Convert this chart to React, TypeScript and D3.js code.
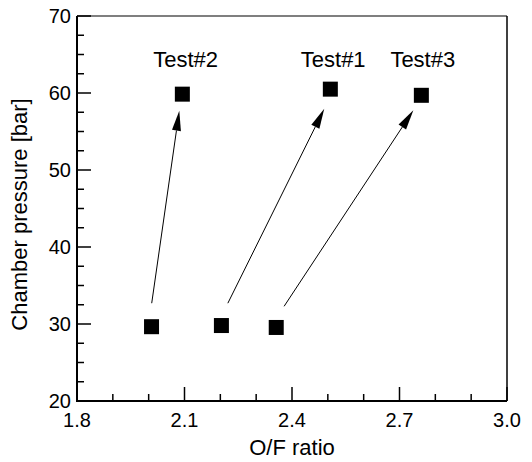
import { useEffect, useRef } from 'react';
import * as d3 from 'd3';

// O/F ratio vs chamber pressure, start and end point of each test
const TESTS = ['Test#1', 'Test#2', 'Test#3'];
const START_OF = [2.203, 2.008, 2.356];
const START_PC = [29.8, 29.65, 29.55];
const END_OF = [2.507, 2.094, 2.761];
const END_PC = [60.5, 59.85, 59.7];

// arrow shafts (from -> to), in data units
const ARROW_FROM_OF = [2.221, 2.0085, 2.378];
const ARROW_FROM_PC = [32.7, 32.7, 32.3];
const ARROW_TO_OF = [2.490, 2.0855, 2.7386];
const ARROW_TO_PC = [57.95, 57.7, 57.75];

// label anchors
const LABEL_OF = [2.515, 2.103, 2.765];
const LABEL_PC = [63.4, 63.4, 63.4];

const X_TICKS = [1.8, 2.1, 2.4, 2.7, 3.0];
const Y_TICKS = [20, 30, 40, 50, 60, 70];

export default function App() {
  const svgRef = useRef<SVGSVGElement>(null);

  useEffect(() => {
    document.body.style.margin = '0';
    const W = 532, H = 462;
    const M = { top: 16, right: 25, bottom: 61, left: 77 };
    const svg = d3.select(svgRef.current);
    svg.selectAll('*').remove();
    svg.attr('width', W).attr('height', H);
    svg.append('rect').attr('width', W).attr('height', H).attr('fill', '#fff');

    const font = 'Arial, "Liberation Sans", Helvetica, sans-serif';
    const x = d3.scaleLinear().domain([1.8, 3.0]).range([M.left, W - M.right]);
    const y = d3.scaleLinear().domain([20, 70]).range([H - M.bottom, M.top]);
    const [x0, x1] = x.range();
    const [y0, y1] = y.range();

    // frame: top/right thin
    svg.append('line').attr('x1', x0).attr('x2', x1).attr('y1', y1).attr('y2', y1)
      .attr('stroke', '#000').attr('stroke-width', 1.2);
    svg.append('line').attr('x1', x1).attr('x2', x1).attr('y1', y1).attr('y2', y0)
      .attr('stroke', '#000').attr('stroke-width', 1.5);

    // minor + major ticks (inward)
    const g = svg.append('g').attr('stroke', '#000').attr('stroke-width', 1.5);
    d3.range(18, 31).map(v => v / 10).forEach(v => {
      const major = X_TICKS.some(t => Math.abs(t - v) < 1e-6);
      g.append('line').attr('x1', x(v)).attr('x2', x(v))
        .attr('y1', y0).attr('y2', y0 - (major ? 14 : 7));
    });
    d3.range(20, 70.1, 2.5).forEach(v => {
      const major = Y_TICKS.includes(v);
      g.append('line').attr('y1', y(v)).attr('y2', y(v))
        .attr('x1', x0).attr('x2', x0 + (major ? 14 : 7));
    });

    // left & bottom axis lines (thick)
    svg.append('line').attr('x1', x0).attr('x2', x0).attr('y1', y1).attr('y2', y0 + 1)
      .attr('stroke', '#000').attr('stroke-width', 2);
    svg.append('line').attr('x1', x0 - 1).attr('x2', x1).attr('y1', y0).attr('y2', y0)
      .attr('stroke', '#000').attr('stroke-width', 2);

    // tick labels
    svg.append('g').selectAll('text').data(X_TICKS).join('text')
      .attr('x', d => x(d)).attr('y', y0 + 26)
      .attr('text-anchor', 'middle').attr('font-family', font).attr('font-size', 20)
      .text(d => d.toFixed(1));
    svg.append('g').selectAll('text').data(Y_TICKS).join('text')
      .attr('x', x0 - 6).attr('y', d => y(d) + 7)
      .attr('text-anchor', 'end').attr('font-family', font).attr('font-size', 20)
      .text(d => d);

    // axis titles
    svg.append('text').attr('x', (x0 + x1) / 2).attr('y', 455)
      .attr('text-anchor', 'middle').attr('font-family', font).attr('font-size', 22)
      .text('O/F ratio');
    svg.append('text')
      .attr('transform', `translate(27,${(y0 + y1) / 2 + 6}) rotate(-90)`)
      .attr('text-anchor', 'middle').attr('font-family', font).attr('font-size', 22)
      .text('Chamber pressure [bar]');

    // arrows
    const HEAD_L = 20, HEAD_W = 4.5;
    TESTS.forEach((_, i) => {
      const ax = x(ARROW_FROM_OF[i]), ay = y(ARROW_FROM_PC[i]);
      const bx = x(ARROW_TO_OF[i]), by = y(ARROW_TO_PC[i]);
      const len = Math.hypot(bx - ax, by - ay);
      const ux = (bx - ax) / len, uy = (by - ay) / len;
      const cx = bx - ux * HEAD_L, cy = by - uy * HEAD_L;
      svg.append('line').attr('x1', ax).attr('y1', ay).attr('x2', cx).attr('y2', cy)
        .attr('stroke', '#000').attr('stroke-width', 1);
      svg.append('path')
        .attr('d', `M${bx},${by}L${cx - uy * HEAD_W},${cy + ux * HEAD_W}L${cx + uy * HEAD_W},${cy - ux * HEAD_W}Z`)
        .attr('fill', '#000');
    });

    // markers
    const S = 15;
    const pts = TESTS.flatMap((t, i) => [
      { of: START_OF[i], pc: START_PC[i] },
      { of: END_OF[i], pc: END_PC[i] },
    ]);
    svg.append('g').selectAll('rect').data(pts).join('rect')
      .attr('x', d => x(d.of) - S / 2).attr('y', d => y(d.pc) - S / 2)
      .attr('width', S).attr('height', S).attr('fill', '#000');

    // labels
    svg.append('g').selectAll('text').data(TESTS).join('text')
      .attr('x', (d, i) => x(LABEL_OF[i])).attr('y', (d, i) => y(LABEL_PC[i]))
      .attr('text-anchor', 'middle').attr('font-family', font).attr('font-size', 22)
      .text(d => d);
  }, []);

  return <svg ref={svgRef} style={{ display: 'block' }} />;
}
